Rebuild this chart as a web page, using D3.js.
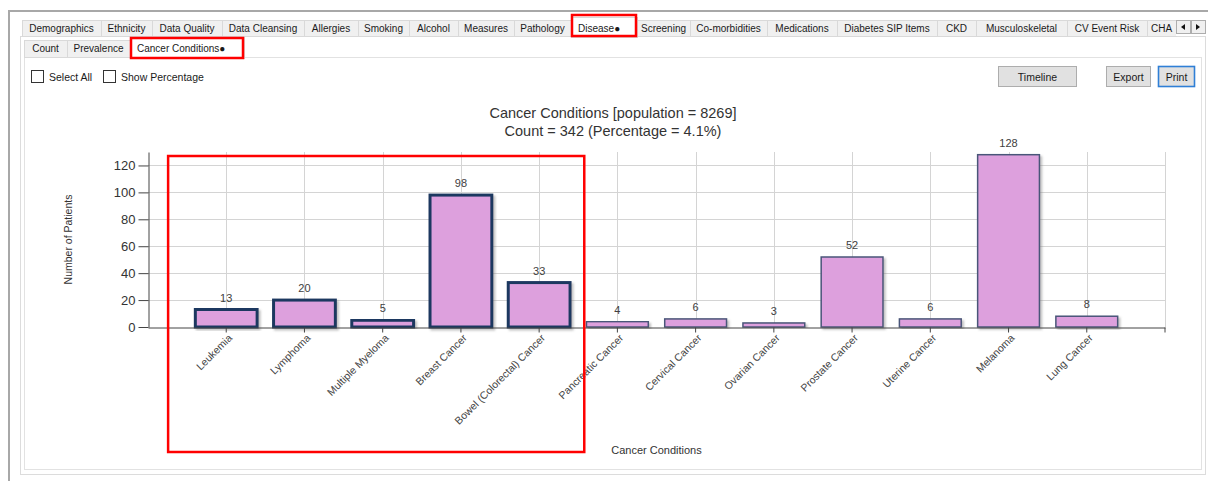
<!DOCTYPE html>
<html>
<head>
<meta charset="utf-8">
<script src="https://cdn.jsdelivr.net/npm/d3@7"></script>
<style>
  body { margin: 0; background: #fff; }
  svg { display: block; font-family: "Liberation Sans", Arial, sans-serif; }
</style>
</head>
<body>
<div class="chart-container"></div>
<script>
// Chart data
const categories = ["Leukemia", "Lymphoma", "Multiple Myeloma", "Breast Cancer", "Bowel (Colorectal) Cancer",
  "Pancreatic Cancer", "Cervical Cancer", "Ovarian Cancer", "Prostate Cancer", "Uterine Cancer", "Melanoma", "Lung Cancer"];
const counts = [13, 20, 5, 98, 33, 4, 6, 3, 52, 6, 128, 8];
const yTicks = [0, 20, 40, 60, 80, 100, 120];
const highlighted = categories.slice(0, 5);
const titleLines = ["Cancer Conditions [population = 8269]", "Count = 342 (Percentage = 4.1%)"];

// Window tabs (name, left edge, right edge)
const mainTabs = [
  ["Demographics", 22, 101], ["Ethnicity", 101, 152], ["Data Quality", 152, 222], ["Data Cleansing", 222, 304],
  ["Allergies", 304, 358], ["Smoking", 358, 409], ["Alcohol", 409, 458], ["Measures", 458, 514],
  ["Pathology", 514, 571], ["Disease\u25CF", 571, 637], ["Screening", 637, 690], ["Co-morbidities", 690, 767],
  ["Medications", 767, 837], ["Diabetes SIP Items", 837, 937], ["CKD", 937, 976], ["Musculoskeletal", 976, 1067],
  ["CV Event Risk", 1067, 1147], ["CHA", 1147, 1176]
];
const subTabs = [["Count", 24, 67], ["Prevalence", 67, 130], ["Cancer Conditions\u25CF", 130, 244]];

const data = categories.map((c, i) => ({ category: c, count: counts[i] }));

const svg = d3.select(".chart-container")
  .append("svg")
  .attr("width", 1208)
  .attr("height", 481);

const defs = svg.append("defs");
defs.append("filter").attr("id", "shadow")
  .attr("x", "-10%").attr("y", "-10%").attr("width", "130%").attr("height", "130%")
  .append("feDropShadow")
    .attr("dx", 2).attr("dy", 2).attr("stdDeviation", 1)
    .attr("flood-color", "#777").attr("flood-opacity", 0.45);

// ---------- window chrome ----------
svg.append("path")
  .attr("d", "M9,481 V11 H1208")
  .attr("fill", "none").attr("stroke", "#a8a8a8").attr("stroke-width", 2);

svg.append("rect")
  .attr("x", 20.5).attr("y", 36.5).attr("width", 1185).attr("height", 438)
  .attr("fill", "#fff").attr("stroke", "#dcdcdc");

const drawTabs = (tabs, selectedName, top, bottom) => {
  const g = svg.append("g");
  tabs.forEach(([name, x0, x1]) => {
    const sel = name === selectedName;
    g.append("rect")
      .attr("x", x0 + 0.5).attr("y", sel ? top - 3 + 0.5 : top + 0.5)
      .attr("width", x1 - x0).attr("height", sel ? bottom - top + 4 : bottom - top)
      .attr("fill", sel ? "#fff" : "#f0f0f0")
      .attr("stroke", "#d9d9d9");
    g.append("text")
      .attr("x", sel ? x0 + 7 : (x0 + x1) / 2)
      .attr("y", (top + bottom) / 2 + 3.5)
      .attr("text-anchor", sel ? "start" : "middle")
      .attr("font-size", 10)
      .attr("fill", "#1a1a1a")
      .text(name);
  });
  return g;
};

drawTabs(mainTabs, "Disease\u25CF", 20, 36);
// hide the clipped last tab under the scroll buttons
svg.append("rect").attr("x", 1176).attr("y", 18).attr("width", 32).attr("height", 18).attr("fill", "#fff");
[1176, 1191].forEach((bx, i) => {
  svg.append("rect")
    .attr("x", bx + 0.5).attr("y", 20.5).attr("width", 14).attr("height", 13)
    .attr("fill", "#f0f0f0").attr("stroke", "#adadad");
  const mx = bx + 7, my = 27;
  svg.append("path")
    .attr("d", i === 0 ? `M${mx + 2},${my - 3} L${mx - 2},${my} L${mx + 2},${my + 3} Z`
                        : `M${mx - 2},${my - 3} L${mx + 2},${my} L${mx - 2},${my + 3} Z`)
    .attr("fill", "#111");
});

svg.append("rect")
  .attr("x", 24.5).attr("y", 57.5).attr("width", 1177).attr("height", 412)
  .attr("fill", "#fff").attr("stroke", "#e2e2e2");
drawTabs(subTabs, "Cancer Conditions\u25CF", 40, 57);

// checkboxes
[[31, "Select All"], [103, "Show Percentage"]].forEach(([bx, label]) => {
  svg.append("rect")
    .attr("x", bx + 0.5).attr("y", 70.5).attr("width", 12).attr("height", 12)
    .attr("fill", "#fff").attr("stroke", "#333");
  svg.append("text")
    .attr("x", bx + 18).attr("y", 80.5)
    .attr("font-size", 10.5).attr("fill", "#1a1a1a")
    .text(label);
});

// buttons
[["Timeline", 998, 78, false], ["Export", 1106, 44, false], ["Print", 1158, 36, true]].forEach(([label, bx, bw, focus]) => {
  svg.append("rect")
    .attr("x", bx + 0.5).attr("y", 66.5).attr("width", bw).attr("height", 20)
    .attr("fill", "#e1e1e1")
    .attr("stroke", focus ? "#2f7fd6" : "#adadad")
    .attr("stroke-width", focus ? 1.6 : 1);
  svg.append("text")
    .attr("x", bx + bw / 2 + 0.5).attr("y", 80.5)
    .attr("text-anchor", "middle")
    .attr("font-size", 10.5).attr("fill", "#1a1a1a")
    .text(label);
});

// ---------- chart ----------
const xScale = d3.scaleBand()
  .domain(categories)
  .range([148, 1165])
  .paddingInner(0)
  .paddingOuter(0.5);

const yScale = d3.scaleLinear()
  .domain([0, 130])
  .range([327, 152]);

const cx = d => xScale(d) + xScale.bandwidth() / 2;
const plotRight = xScale.range()[1];

// title
svg.selectAll(".title")
  .data(titleLines)
  .join("text")
    .attr("class", "title")
    .attr("x", 613)
    .attr("y", (d, i) => 118 + i * 17.5)
    .attr("text-anchor", "middle")
    .attr("font-size", 14.5)
    .attr("fill", "#333")
    .text(d => d);

// gridlines
const grid = svg.append("g").attr("stroke", "#d4d4d4").attr("stroke-width", 1);
grid.selectAll(".hgrid")
  .data(yTicks.filter(t => t > 0))
  .join("line")
    .attr("x1", 148).attr("x2", plotRight)
    .attr("y1", d => Math.round(yScale(d)) + 0.5)
    .attr("y2", d => Math.round(yScale(d)) + 0.5);
grid.selectAll(".vgrid")
  .data(categories.map(cx).concat([plotRight]))
  .join("line")
    .attr("x1", d => Math.round(d) + 0.5).attr("x2", d => Math.round(d) + 0.5)
    .attr("y1", yScale.range()[1]).attr("y2", yScale(0));

// bars
svg.selectAll(".bar")
  .data(data)
  .join("rect")
    .attr("class", "bar")
    .attr("x", d => cx(d.category) - xScale.bandwidth() * 0.395)
    .attr("width", xScale.bandwidth() * 0.79)
    .attr("y", d => yScale(d.count))
    .attr("height", d => yScale(0) - yScale(d.count))
    .attr("fill", "#dda0dd")
    .attr("stroke", d => highlighted.includes(d.category) ? "#1d3961" : "#4a5679")
    .attr("stroke-width", d => highlighted.includes(d.category) ? 3 : 1.5)
    .attr("filter", "url(#shadow)");

// value labels
svg.selectAll(".value")
  .data(data)
  .join("text")
    .attr("class", "value")
    .attr("x", d => cx(d.category))
    .attr("y", d => yScale(d.count) - 8)
    .attr("text-anchor", "middle")
    .attr("font-size", 11)
    .attr("fill", "#404040")
    .text(d => d.count);

// axes
const yAxis = svg.append("g")
  .attr("transform", "translate(148.5,0)")
  .call(d3.axisLeft(yScale).tickValues(yTicks).tickSize(10).tickSizeOuter(0).tickPadding(3));
yAxis.selectAll("text").attr("font-size", 13).attr("fill", "#333").attr("font-family", "Liberation Sans, Arial, sans-serif");
yAxis.selectAll("line, path").attr("stroke", "#444");

const xAxis = svg.append("g")
  .attr("transform", `translate(0,${yScale(0) + 0.5})`)
  .call(d3.axisBottom(xScale).tickSize(5).tickSizeOuter(0).tickFormat(""));
xAxis.selectAll("line, path").attr("stroke", "#444");
xAxis.append("line")
  .attr("x1", plotRight).attr("x2", plotRight).attr("y1", 0).attr("y2", 5)
  .attr("stroke", "#444");

svg.selectAll(".xlabel")
  .data(categories)
  .join("text")
    .attr("class", "xlabel")
    .attr("transform", d => `translate(${cx(d) + 4},${yScale(0) + 9}) rotate(-45)`)
    .attr("text-anchor", "end")
    .attr("dy", "0.35em")
    .attr("font-size", 10.5)
    .attr("fill", "#444")
    .text(d => d);

// axis titles
svg.append("text")
  .attr("transform", `translate(72,${(yScale.range()[0] + yScale.range()[1]) / 2}) rotate(-90)`)
  .attr("text-anchor", "middle")
  .attr("font-size", 10.5)
  .attr("fill", "#333")
  .text("Number of Patients");

svg.append("text")
  .attr("x", (148 + plotRight) / 2)
  .attr("y", 454)
  .attr("text-anchor", "middle")
  .attr("font-size", 11)
  .attr("fill", "#333")
  .text("Cancer Conditions");

// ---------- red annotation boxes ----------
const firstX = xScale(highlighted[0]);
const lastX = xScale(highlighted[highlighted.length - 1]) + xScale.bandwidth();
const annotations = [
  { x: firstX - 19, y: 156, w: lastX + 6 - (firstX - 19), h: 296 },
  { x: 572, y: 15, w: 64, h: 21 },
  { x: 131, y: 38, w: 112, h: 20 }
];
svg.selectAll(".annot")
  .data(annotations)
  .join("rect")
    .attr("class", "annot")
    .attr("x", d => d.x).attr("y", d => d.y)
    .attr("width", d => d.w).attr("height", d => d.h)
    .attr("fill", "none")
    .attr("stroke", "#f00")
    .attr("stroke-width", 2.5);
</script>
</body>
</html>
